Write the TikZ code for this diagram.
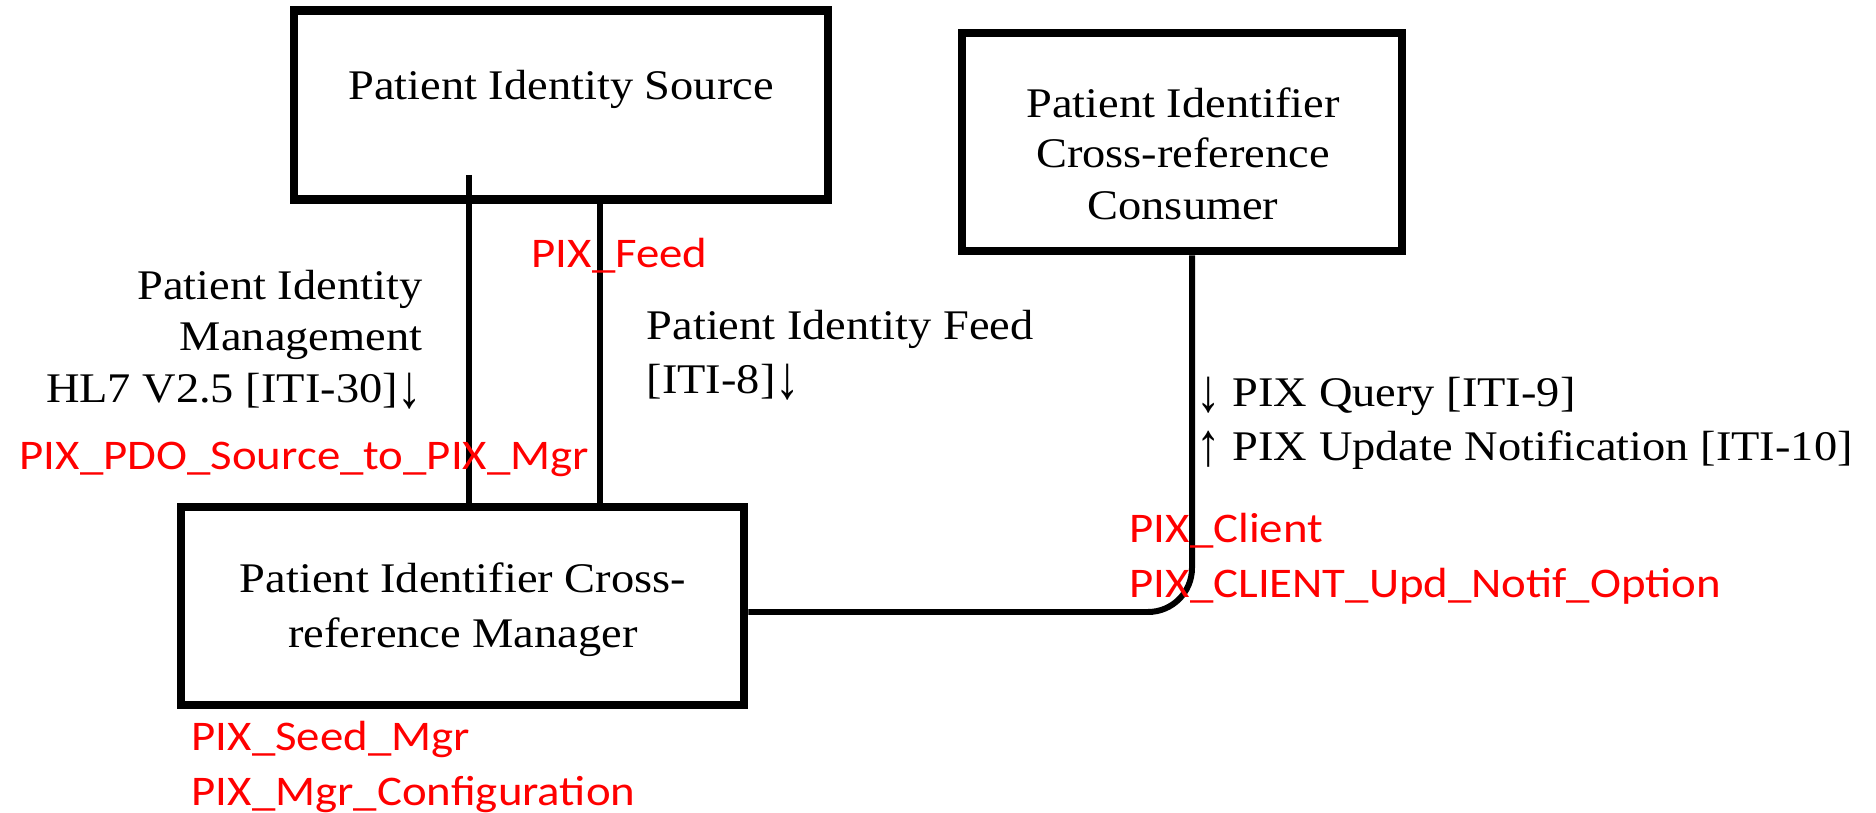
\documentclass[tikz,border=0pt]{standalone}
\usepackage{graphicx}
\usepackage{fontspec}
\setmainfont{Liberation Serif}[FakeStretch=1.1]
\newfontfamily\pixfont{Carlito}[FakeStretch=1.11]
\newcommand{\dnarr}{\raisebox{-0.1em}{\scalebox{1.05}[1.45]{↓}}}
\newcommand{\uparr}{\raisebox{-0.1em}{\scalebox{1.05}[1.45]{↑}}}
\begin{document}
\begin{tikzpicture}[x=0.01cm,y=-0.01cm,
  box/.style={draw, line width=2.4pt, inner sep=0},
  conn/.style={line width=1.7pt},
  lbl/.style={inner sep=0, font=\fontsize{12pt}{14pt}\selectfont},
  pix/.style={inner sep=0, text=red, font=\pixfont\fontsize{12pt}{14pt}\selectfont}
]
\useasboundingbox (0,0) rectangle (1876,813);

% boxes
\node[box, minimum width=5.34cm, minimum height=1.885cm] (src) at (561,105) {};
\node[box, minimum width=5.63cm, minimum height=1.98cm] (mgr) at (462.5,606) {};
\node[box, minimum width=4.40cm, minimum height=2.18cm] (cons) at (1182,142) {};

% connectors
\coordinate (a1) at (469,175);
\coordinate (b1) at (600,0);
\coordinate (c1) at (0,612);
\coordinate (c2) at (1192,0);
\draw[conn] (a1) -- (a1 |- mgr.north);
\draw[conn] (b1 |- src.south) -- (b1 |- mgr.north);
\draw[conn, rounded corners=0.44cm] (mgr.east |- c1) -| (c2 |- cons.south);

% box texts
\node[lbl, anchor=base] (srct) at (561,100) {Patient Identity Source};
\node[lbl, anchor=base] (cons1) at (1183,118) {Patient Identifier};
\node[lbl, anchor=base] (cons2) at (1183,168) {Cross-reference};
\node[lbl, anchor=base] (cons3) at (1183,220) {Consumer};
\node[lbl, anchor=base] (mgr1) at (463,593) {Patient Identifier Cross-};
\node[lbl, anchor=base] (mgr2) at (463,647) {reference Manager};

% transaction labels
\node[lbl, anchor=base east] (pim1) at (423,300) {Patient Identity};
\node[lbl, anchor=base east] (pim2) at (423,351) {Management};
\node[lbl, anchor=base east] (pim3) at (423,403) {HL7 V2.5 [ITI-30]\dnarr};
\node[lbl, anchor=base west] (pif1) at (646,340) {Patient Identity Feed};
\node[lbl, anchor=base west] (pif2) at (646,394) {[ITI-8]\dnarr};
\node[lbl, anchor=base west] (q1) at (1196,407) {\dnarr\ PIX Query [ITI-9]};
\node[lbl, anchor=base west] (q2) at (1196,461) {\uparr\ PIX Update Notification [ITI-10]};

% red labels
\node[pix, anchor=base west] (r1) at (531,268) {PIX\_Feed};
\node[pix, anchor=base west] (r2) at (19,470) {PIX\_PDO\_Source\_to\_PIX\_Mgr};
\node[pix, anchor=base west] (r3) at (1129,543) {PIX\_Client};
\node[pix, anchor=base west] (r4) at (1129,598) {PIX\_CLIENT\_Upd\_Notif\_Option};
\node[pix, anchor=base west] (r5) at (191,750) {PIX\_Seed\_Mgr};
\node[pix, anchor=base west] (r6) at (191,805) {PIX\_Mgr\_Configuration};
\end{tikzpicture}
\end{document}
